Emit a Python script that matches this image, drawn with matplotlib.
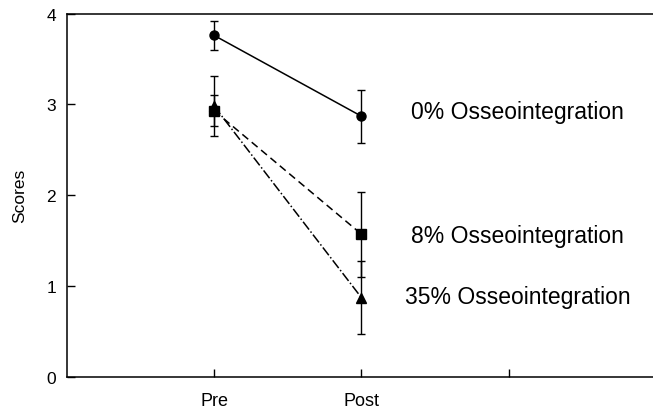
import matplotlib
matplotlib.use("Agg")
import matplotlib.pyplot as plt

plt.rcParams['font.family'] = ['Liberation Sans', 'DejaVu Sans']

# data
x_labels = ['Pre', 'Post', '']
x_pos = [1, 2]
series_names = ['0% Osseointegration', '8% Osseointegration', '35% Osseointegration']
mean_0 = [3.76, 2.87]
err_0 = [0.16, 0.29]
mean_8 = [2.93, 1.57]
err_8 = [0.17, 0.47]
mean_35 = [2.98, 0.87]
err_35 = [0.33, 0.40]
label_y = [2.92, 1.56, 0.88]

fig = plt.figure(figsize=(6.53, 4.10), dpi=100)
ax = fig.add_axes([67/653, 32.3/410, 589/653, 363/410])

ax.errorbar(x_pos, mean_0, yerr=err_0, fmt='o-', color='black', ms=6.5,
            lw=1.1, elinewidth=1, capsize=3, capthick=1)
ax.errorbar(x_pos, mean_8, yerr=err_8, fmt='s--', color='black', ms=6.5,
            lw=1.1, elinewidth=1, capsize=3, capthick=1, dashes=(5, 3))
ax.errorbar(x_pos, mean_35, yerr=err_35, fmt='^-.', color='black', ms=7,
            lw=1.1, elinewidth=1, capsize=3, capthick=1)

for name, yv in zip(series_names, label_y):
    ax.text(3.06, yv, name, ha='center', va='center', fontsize=16.5)

ax.set_xlim(0, 4)
ax.set_ylim(0, 4)
ax.set_xticks([1, 2, 3])
ax.set_xticklabels(x_labels)
ax.set_yticks([0, 1, 2, 3, 4])
ax.tick_params(direction='in', length=5.5, width=1)
ax.tick_params(axis='x', pad=11, labelsize=13)
ax.tick_params(axis='y', pad=8, labelsize=12.5)
ax.spines['right'].set_visible(False)
for s in ax.spines.values():
    s.set_linewidth(1.1)
ax.set_ylabel('Scores', fontsize=12.5, labelpad=14)

fig.savefig('out.png', dpi=100)
